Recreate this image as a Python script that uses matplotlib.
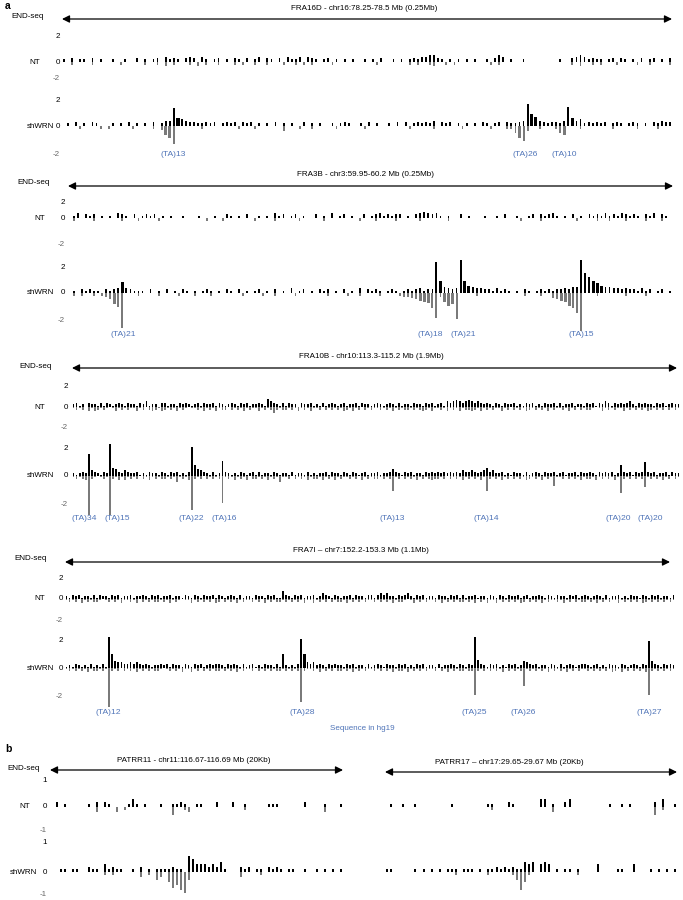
import numpy as np
import matplotlib
matplotlib.use("Agg")
import matplotlib.pyplot as plt
from matplotlib.patches import FancyArrowPatch
from matplotlib import transforms

plt.rcParams['font.family'] = ['Liberation Sans', 'DejaVu Sans']

# each track: one base-36 digit per genomic bin = signal height in tenths
# FRA16D (150 bins)
fra16d_nt_pos = ("2030220302" "0020020030" "2023042320" "3430420230" "2032030240"
                 "3203042240" "4320230202" "0200202030" "0202023244" "5532020202"
                 "0200203540" "2002000000" "0020034542" "3220230320" "2030230203")
fra16d_nt_neg = ("0020000200" "0000200000" "2002030200" "0203020020" "0020200200"
                 "2000200202" "0200002000" "0000000200" "0000020200" "2300202000"
                 "0000020200" "0000000000" "0000020300" "2020002000" "0200200002")
fra16d_sh_pos = ("0203020320" "0020203020" "2030244d65" "4332232302" "3230323020"
                 "2030202003" "0202002023" "2002030200" "2030302323" "2403230202"
                 "0203202303" "2234g97432" "3324e64523" "2323023202" "3202032433")
fra16d_sh_neg = ("0000200002" "0200000200" "0020379d00" "0000200000" "0002000200"
                 "0000400020" "0200000200" "0000200000" "0000020000" "0200000020"
                 "0000020002" "259b400200" "0257000200" "0000020000" "0200002000")
fra16d_repeats = ["(TA)13", "(TA)26", "(TA)10"]
fra16d_repeat_bins = [27.3, 113.8, 123.4]

# FRA3B (150 bins)
fra3b_nt_pos = ("0240323020" "2043203023" "2302020020" "0020002003" "2020300202"
                "0423023020" "0302040230" "2003023423" "2330203454" "3420200302"
                "0002002030" "0200230323" "4202030203" "2324232432" "3203240320")
fra3b_nt_neg = ("0200002000" "0002000200" "0020000000" "0000200020" "0000002000"
                "0200000200" "0002000000" "0020002000" "0200000200" "0000200000"
                "0000000000" "0020000200" "0000002000" "0200200020" "0002000200")
fra3b_sh_pos = ("0203232203" "2349432220" "3020302032" "0202320203" "2030202302"
                "0302040230" "2032302030" "2040323202" "3202323423" "3pa5434qa6"
                "5443324232" "0203202323" "2334355qgd" "a865544343" "3242302302")
fra3b_sh_neg = ("0202002023" "59bs000200" "0020000200" "0200020000" "0002000020"
                "0200002000" "0000200002" "0020000200" "0023345678" "ck37a9l000"
                "0200000000" "0002000200" "4567acgu00" "0200000020" "0002000000")
fra3b_repeats = ["(TA)21", "(TA)18", "(TA)21", "(TA)15"]
fra3b_repeat_bins = [13.7, 89.9, 98.1, 127.4]

# FRA10B (200 bins)
fra10b_nt_pos = ("2312032213" "1321232132" "2132412203" "3122132321" "2313223132"
                 "1232132312" "2321643213" "1322032231" "2131232123" "1223132212"
                 "3212321312" "2132213231" "2314345434" "5434323213" "2132231213"
                 "2312132231" "3122312213" "2313243132" "3234213232" "2132312322")
fra10b_nt_neg = ("1212031321" "2101312121" "1312023213" "2121312101" "1213121312"
                 "2021213121" "1312124212" "2121312131" "1202121213" "2131202121"
                 "1212131212" "2121232131" "1213121312" "2321312121" "1312021213"
                 "2121213121" "1213120212" "2101312121" "1312121213" "2121202121")
fra10b_sh_pos = ("21232g4321" "32n6532432" "2312132213" "213231213l" "854321312b"
                 "3212132123" "1312213212" "2131221312" "1223132213" "2132123122"
                 "3122353213" "2312213232" "3232323243" "3432346342" "2312132213"
                 "1232132231" "2312231322" "3213232312" "83231323a3" "2312231322")
fra10b_sh_neg = ("12123s2101" "21s2131312" "1202131212" "212141213o" "212021212j"
                 "1213121302" "2121312141" "1202121312" "2131213121" "1212031212"
                 "21212b1202" "1213121232" "2120212131" "212131b212" "1312021213"
                 "2121312171" "1202121312" "2131212131" "c212021281" "2121312021")
fra10b_repeats = ["(TA)34", "(TA)15", "(TA)22", "(TA)16", "(TA)13", "(TA)14", "(TA)20", "(TA)20"]
fra10b_repeat_bins = [3.9, 14.8, 39.1, 50.0, 105.3, 136.2, 179.6, 190.1]

# FRA7I (200 bins)
fra7i_nt_pos = ("2132312213" "1322132312" "2312232132" "3122312213" "2132132231"
                "3212321312" "2132213231" "1632132312" "2312432132" "1223132213"
                "3134342213" "2342132312" "2132213231" "3122312213" "2132132231"
                "2312232132" "1322132312" "3212321312" "2312132213" "2132312213")
fra7i_nt_neg = ("1212031212" "2101212131" "1213021212" "2121312101" "1312121203"
                "2021213121" "1212031212" "2121212131" "1312120212" "2131212121"
                "1212121312" "2101312121" "1213121212" "2121302131" "1312121213"
                "2021213121" "1213120212" "2121312121" "1312121203" "2121212121")
fra7i_sh_pos = ("1213212131" "2131ma5443" "3434323212" "2323132213" "2132312323"
                "3213232131" "2312132213" "1a21213la4" "3423213232" "2132312213"
                "1232132213" "2312132312" "2131223213" "2132m63213" "2312132312"
                "5432312213" "2131232123" "3212312132" "2132123213" "2j53213232")
fra7i_sh_neg = ("1212121312" "2121s21202" "1213121212" "2101212131" "1312021212"
                "2121213121" "1202121212" "2121212o21" "1213121202" "2121312121"
                "1212021312" "2131212121" "1202131212" "2122j21212" "1213021212"
                "d121212131" "2121312021" "1212121213" "2131202121" "3j21212121")
fra7i_repeats = ["(TA)12", "(TA)28", "(TA)25", "(TA)26", "(TA)27"]
fra7i_repeat_bins = [14.1, 77.7, 134.1, 150.2, 191.5]

# PATRR11 / PATRR17 (72 bins)
patrr11_nt_pos = ("2010000010" "2021000013" "1010001001" "1210011000" "2000200100"
                  "0001110000" "0020000100" "01")
patrr11_nt_neg = ("0000000000" "2000020100" "0000000003" "0012000000" "0000000100"
                  "0000000000" "0000000200" "00")
patrr11_sh_pos = ("0110110021" "1031211001" "0201011112" "1106533323" "2410002120"
                  "1102121011" "0010010101" "01")
patrr11_sh_neg = ("0000000000" "0010100000" "0201032046" "5783000000" "0000002000"
                  "0100000000" "0000000000" "00")
patrr17_nt_pos = ("0100100100" "0000001000" "0000011000" "2100000033" "0100230000"
                  "0000010010" "1000002030" "01")
patrr17_nt_neg = ("0000000000" "0000000000" "0000001000" "0000000000" "0200000000"
                  "0000000000" "0000003010" "00")
patrr17_sh_pos = ("1100000101" "0101011101" "1101011212" "1211434034" "3010110100"
                  "0030000110" "0300010101" "01")
patrr17_sh_neg = ("0000000000" "0000000100" "0000010000" "0137410000" "0000000100"
                  "0000000000" "0000000000" "00")

W, H = 683, 900
fig = plt.figure(figsize=(W / 100, H / 100), dpi=100)
BLUE = '#4f74b8'
GREY = '#7a7a7a'
FS = 5.8


def vals(s):
    return np.array([int(c, 36) for c in s]) / 10.0


def txt(x, y, s, **kw):
    kw.setdefault('fontsize', FS)
    kw.setdefault('va', 'center')
    fig.text(x / W, 1 - y / H, s, **kw)


def arrow(x0, x1, y):
    fig.add_artist(FancyArrowPatch((x0 / W, 1 - y / H), (x1 / W, 1 - y / H),
                                   transform=fig.transFigure, arrowstyle='<|-|>',
                                   mutation_scale=11, lw=0.9, color='black',
                                   shrinkA=0, shrinkB=0))


def widths(v, thin, lo):
    # peak shoulders look like solid blobs, single reads and spikes like thin ticks
    w = np.where((v >= lo) & (v <= 1.0), 0.8, thin)
    return np.where(v > 1.0, max(thin, 0.5), w)


def track(x0, x1, zero, ppu, lim, pos, neg, thin, lo):
    top, bottom = zero - lim * ppu, zero + lim * ppu
    ax = fig.add_axes([x0 / W, 1 - bottom / H, (x1 - x0) / W, (bottom - top) / H])
    p, n = vals(pos), vals(neg)
    ax.bar(np.arange(len(p)) + 0.5, p, width=widths(p, thin, lo), color='black',
           linewidth=0, clip_on=False)
    ax.bar(np.arange(len(n)) + 0.5, -n, width=widths(n, thin, lo), color=GREY,
           linewidth=0, clip_on=False)
    ax.set_xlim(0, len(p))
    ax.set_ylim(-lim, lim)
    ax.axis('off')
    return ax


def ticks(x, ys, labels):
    for y, lab in zip(ys, labels):
        txt(x, y, lab, ha='right', color='#666666' if lab.startswith('-') else 'black')


def repeats(ax, bins, names, y):
    tr = transforms.blended_transform_factory(ax.transData, fig.transFigure)
    for b, name in zip(bins, names):
        ax.text(b, 1 - y / H, name, transform=tr, ha='center', va='center',
                fontsize=FS + 0.3, color=BLUE)


loci = [
    ("FRA16D - chr16:78.25-78.5 Mb (0.25Mb)", 364, 8, 62, 672, 19, 28, 17, 62, 672, 62, 126, 13.5,
     fra16d_nt_pos, fra16d_nt_neg, fra16d_sh_pos, fra16d_sh_neg, 0.45, 0.6,
     fra16d_repeat_bins, fra16d_repeats, 155, 60, [37, 62, 78], [100, 126, 155], 35),
    ("FRA3B - chr3:59.95-60.2 Mb (0.25Mb)", 365, 174, 68, 673, 186, 34, 182, 68, 672, 218, 293, 12.5,
     fra3b_nt_pos, fra3b_nt_neg, fra3b_sh_pos, fra3b_sh_neg, 0.45, 0.6,
     fra3b_repeat_bins, fra3b_repeats, 335, 65, [202, 218, 245], [268, 293, 320], 40),
    ("FRA10B - chr10:113.3-115.2 Mb (1.9Mb)", 371, 357, 72, 677, 368, 36, 366, 72, 680, 407, 476, 14,
     fra10b_nt_pos, fra10b_nt_neg, fra10b_sh_pos, fra10b_sh_neg, 0.6, 0.6,
     fra10b_repeat_bins, fra10b_repeats, 519, 68, [386, 407, 428], [448, 476, 504], 40),
    ("FRA7I \u2013 chr7:152.2-153.3 Mb (1.1Mb)", 361, 550, 65, 670, 562, 31, 558, 65, 675, 599, 668, 14,
     fra7i_nt_pos, fra7i_nt_neg, fra7i_sh_pos, fra7i_sh_neg, 0.6, 0.6,
     fra7i_repeat_bins, fra7i_repeats, 713, 63, [578, 599, 620], [640, 668, 697], 40),
]

for (title, tx, ty, ax0, ax1, ay, ex, ey, dx0, dx1, ntz, shz, ppu,
     ntp, ntn, shp, shn, thin, lo, rb, rn, ry, tkx, nty, shy, ntx) in loci:
    txt(tx, ty, title, ha='center')
    arrow(ax0, ax1, ay)
    txt(ex, ey, 'END-seq', ha='center')
    track(dx0, dx1, ntz, ppu, 2, ntp, ntn, thin, lo)
    ax = track(dx0, dx1, shz, ppu, 2, shp, shn, thin, lo)
    repeats(ax, rb, rn, ry)
    ticks(tkx, nty, ['2', '0', '-2'])
    ticks(tkx, shy, ['2', '0', '-2'])
    txt(ntx, ntz, 'NT', ha='center')
    txt(40, shz, 'shWRN', ha='center')

txt(362, 728, 'Sequence in hg19', ha='center', color=BLUE)

# panel b
txt(24, 768, 'END-seq', ha='center')
txt(25, 807, 'NT', ha='center')
txt(23, 872, 'shWRN', ha='center')
ticks(47, [780, 807, 830], ['1', '0', '-1'])
ticks(47, [842, 872, 895], ['1', '0', '-1'])

txt(194, 760, 'PATRR11 - chr11:116.67-116.69 Mb (20Kb)', ha='center')
arrow(50, 343, 770)
track(55, 343, 807, 26, 1, patrr11_nt_pos, patrr11_nt_neg, 0.5, 9)
track(55, 343, 872, 26, 1, patrr11_sh_pos, patrr11_sh_neg, 0.5, 9)

txt(509, 762, 'PATRR17 \u2013 chr17:29.65-29.67 Mb (20Kb)', ha='center')
arrow(385, 677, 772)
track(385, 677, 807, 26, 1, patrr17_nt_pos, patrr17_nt_neg, 0.5, 9)
track(385, 677, 872, 26, 1, patrr17_sh_pos, patrr17_sh_neg, 0.5, 9)

txt(5, 6, 'a', ha='left', fontsize=7.5, fontweight='bold')
txt(5, 749, 'b', ha='left', fontsize=7.5, fontweight='bold')

fig.savefig('out.png', dpi=100)
